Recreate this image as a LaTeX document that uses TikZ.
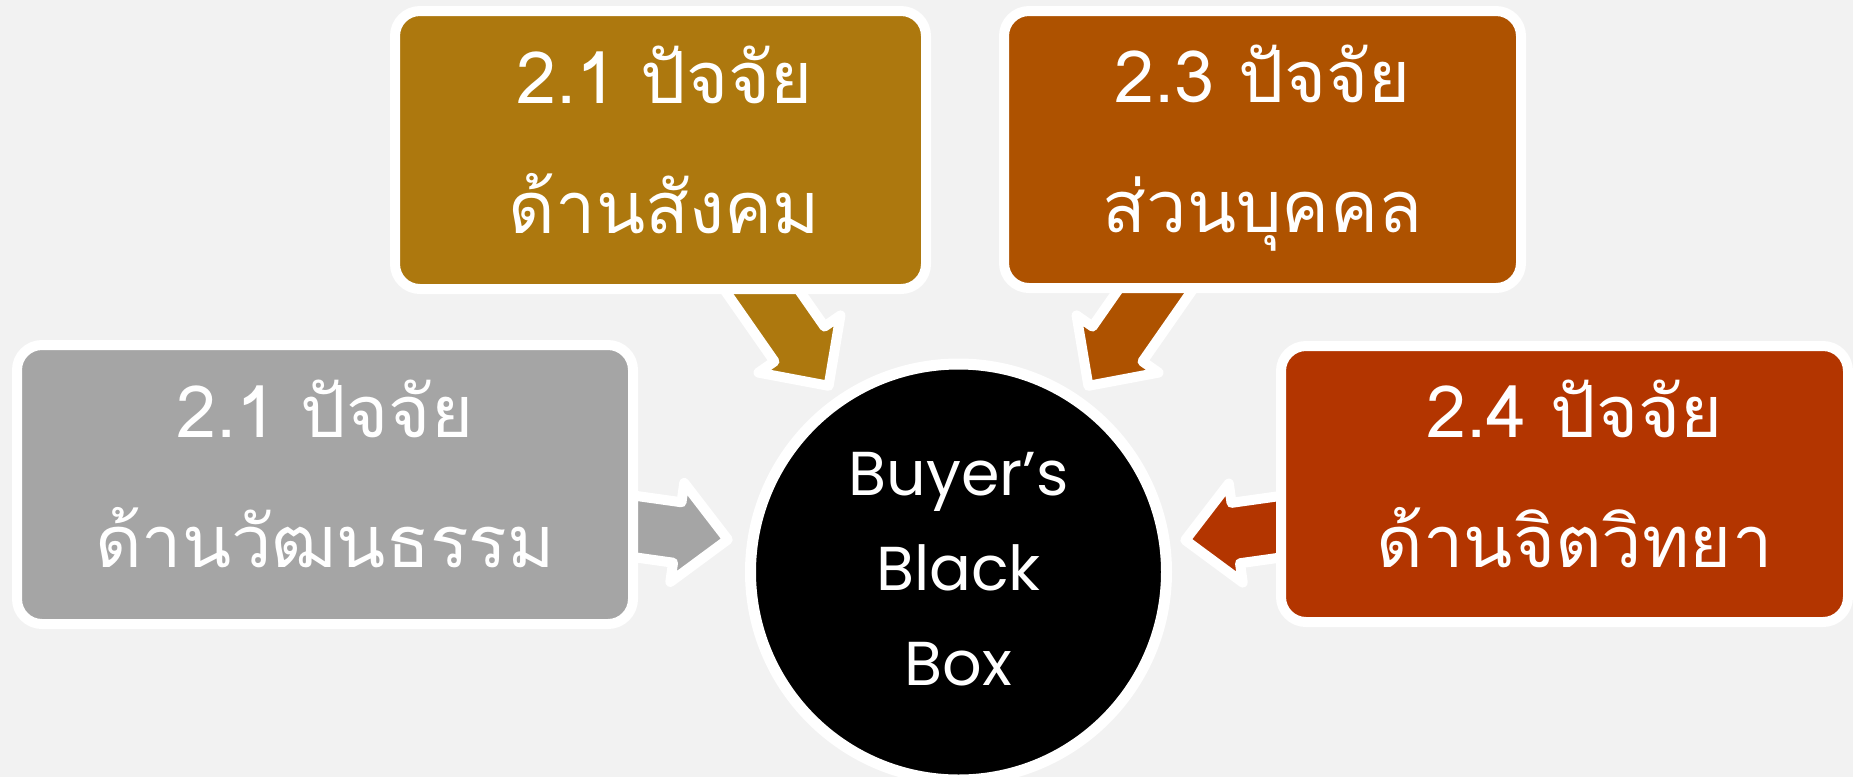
\documentclass[tikz,border=0pt]{standalone}
\usepackage{fontspec}
\newfontfamily\thaifont[Script=Thai]{Loma}
\newfontfamily\latinfont{Poppins}
\usetikzlibrary{calc}
\definecolor{bgc}{HTML}{F2F2F2}
\definecolor{grayc}{HTML}{A5A5A5}
\definecolor{goldc}{HTML}{AD780E}
\definecolor{orangec}{HTML}{AE5200}
\definecolor{redc}{HTML}{B33500}
\pgfdeclarelayer{bgrect}
\pgfdeclarelayer{arrows}
\pgfsetlayers{bgrect,arrows,main}
\newcommand\ftext[2]{\begin{tabular}[t]{@{}c@{}}#1\\#2\end{tabular}}
\newcommand\barrow[4]{% #1 colour, #2 source node, #3 angle, #4 tip distance (px)
  \draw[blockarrow, fill=#1, shift={($(bbox.center)+(#3:#4*0.5pt)$)}, rotate=#3]
    (0,0) -- (51,50) -- (51,30.5) -- (170,30.5) -- (170,-30.5) -- (51,-30.5) -- (51,-50) -- cycle;
}
\tikzset{
  factor/.style={draw=white, line width=5pt, rounded corners=12.5pt, inner sep=0pt, outer sep=0pt,
    text=white, font=\thaifont\fontsize{36pt}{65pt}\selectfont, text height=0pt, text depth=47pt},
  blockarrow/.style={draw=white, line width=5pt, line join=round},
  bbstyle/.style={circle, fill=black, draw=white, line width=5.5pt, minimum size=208pt, inner sep=0pt,
    text=white, font=\latinfont\fontsize{31pt}{47.5pt}\selectfont, text height=0pt, text depth=77pt},
}
\begin{document}
\begin{tikzpicture}[x=0.5pt,y=0.5pt]
\useasboundingbox (0,0) rectangle (1853,-777);
\clip (0,0) rectangle (1853,-777);
\begin{pgfonlayer}{bgrect}
  \fill[bgc] (0,0) rectangle (1853,-777);
\end{pgfonlayer}

\node[bbstyle] (bbox) at (958.5,-572) {\begin{tabular}[t]{@{}c@{}}Buyer’s\\Black\\Box\end{tabular}};

\node[factor, fill=grayc, minimum width=308pt, minimum height=139.5pt] (cult) at (325,-484.5)
  {\ftext{2.1 ปัจจัย}{ด้านวัฒนธรรม}};
\node[factor, fill=goldc, minimum width=265.5pt, minimum height=139pt] (soc) at (660.5,-150)
  {\kern4pt\ftext{2.1 ปัจจัย}{ด้านสังคม}};
\node[factor, fill=orangec, minimum width=258.5pt, minimum height=138.5pt] (pers) at (1262.5,-149.5)
  {\ftext{2.3 ปัจจัย}{ส่วนบุคคล}};
\node[factor, fill=redc, minimum width=283.5pt, minimum height=138pt] (psy) at (1564.5,-484)
  {\kern10pt\ftext{2.4 ปัจจัย}{ด้านจิตวิทยา}};

\begin{pgfonlayer}{arrows}
  \barrow{grayc}{cult}{172}{233}
  \barrow{goldc}{soc}{124.9}{227}
  \barrow{orangec}{pers}{55.1}{227}
  \barrow{redc}{psy}{8}{229}
\end{pgfonlayer}
\end{tikzpicture}
\end{document}
